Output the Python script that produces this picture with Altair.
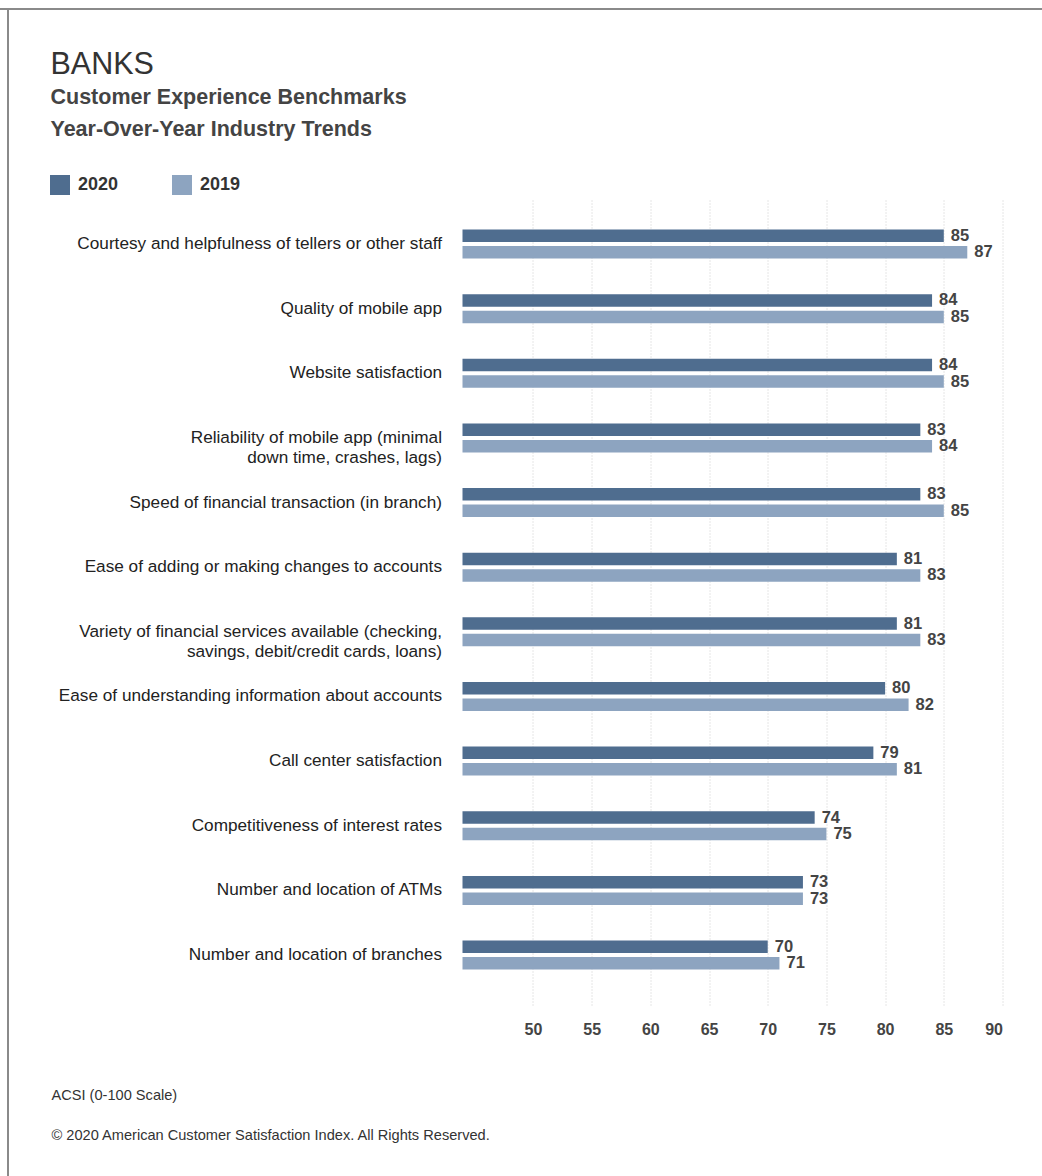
import altair as alt
import pandas as pd

categories = [
    "Courtesy and helpfulness of tellers or other staff",
    "Quality of mobile app",
    "Website satisfaction",
    "Reliability of mobile app (minimal\ndown time, crashes, lags)",
    "Speed of financial transaction (in branch)",
    "Ease of adding or making changes to accounts",
    "Variety of financial services available (checking,\nsavings, debit/credit cards, loans)",
    "Ease of understanding information about accounts",
    "Call center satisfaction",
    "Competitiveness of interest rates",
    "Number and location of ATMs",
    "Number and location of branches",
]
values_2020 = [85, 84, 84, 83, 83, 81, 81, 80, 79, 74, 73, 70]
values_2019 = [87, 85, 85, 84, 85, 83, 83, 82, 81, 75, 73, 71]
years = ["2020", "2019"]
year_colors = ["#4f6d8f", "#8da4c0"]
x_ticks = [50, 55, 60, 65, 70, 75, 80, 85, 90]

title_text = "BANKS"
subtitle_lines = ["Customer Experience Benchmarks", "Year-Over-Year Industry Trends"]
footnotes = ["ACSI (0-100 Scale)", "\u00a9 2020 American Customer Satisfaction Index. All Rights Reserved."]

rows = []
for c, a, b in zip(categories, values_2020, values_2019):
    rows.append({"category": c, "year": "2020", "value": a})
    rows.append({"category": c, "year": "2019", "value": b})
df = pd.DataFrame(rows)

FONT = "Liberation Sans"

y_enc = alt.Y(
    "category:N",
    sort=categories,
    title=None,
    scale=alt.Scale(paddingInner=0.5514, paddingOuter=0.5025, align=0.454, round=False),
    axis=alt.Axis(
        domain=False, ticks=False, labelPadding=21, labelFontSize=17.2,
        labelColor="#222222", labelFont=FONT, labelLimit=0,
        labelExpr="split(datum.label, '\\n')", labelLineHeight=20,
    ),
)
yoff_enc = alt.YOffset("year:N", sort=years, scale=alt.Scale(paddingInner=0.2424, paddingOuter=0))
x_enc = alt.X(
    "value:Q",
    scale=alt.Scale(domain=[44, 90], nice=False, zero=False),
    axis=alt.Axis(
        values=x_ticks, domain=False, ticks=False, grid=True,
        gridColor="#cccccc", gridDash=[1, 2], gridWidth=1,
        labelFontSize=16, labelFontWeight="bold", labelColor="#444444",
        labelFont=FONT, labelPadding=16,
        title=footnotes,
        titleFont=FONT, titleFontSize=14.6, titleFontWeight="normal", titleColor="#333333",
        titleAnchor="start", titleAlign="left", titleBaseline="alphabetic",
        titleLineHeight=40, titleX=-411.5, titleY=94,
    ),
)

base = alt.Chart(df)

bars = base.mark_bar(clip=True).encode(
    x=x_enc,
    y=y_enc,
    yOffset=yoff_enc,
    color=alt.Color(
        "year:N",
        sort=years,
        scale=alt.Scale(domain=years, range=year_colors),
        legend=alt.Legend(
            orient="none", legendX=-412.5, legendY=-25, direction="horizontal",
            title=None, symbolType="square", symbolSize=400, symbolStrokeWidth=0,
            symbolOpacity=1, labelFontSize=18, labelFontWeight="bold",
            labelColor="#333333", labelFont=FONT, labelOffset=8,
            columnPadding=53, padding=0,
        ),
    ),
)

labels = base.mark_text(
    align="left", baseline="middle", dx=7, fontSize=16.5, fontWeight="bold",
    color="#444444", font=FONT,
).encode(
    x="value:Q",
    y=alt.Y("category:N", sort=categories),
    yOffset=alt.YOffset("year:N", sort=years),
    text=alt.Text("value:Q"),
)

single = alt.Chart(pd.DataFrame({"k": [0]}))
title_mark = single.mark_text(
    text=title_text, align="left", baseline="alphabetic", font=FONT,
    fontSize=30.5, color="#333333",
).encode(x=alt.value(-412), y=alt.value(-126.5))
sub1_mark = single.mark_text(
    text=subtitle_lines[0], align="left", baseline="alphabetic", font=FONT,
    fontSize=21.5, fontWeight="bold", color="#444444",
).encode(x=alt.value(-412), y=alt.value(-96))
sub2_mark = single.mark_text(
    text=subtitle_lines[1], align="left", baseline="alphabetic", font=FONT,
    fontSize=21.5, fontWeight="bold", color="#444444",
).encode(x=alt.value(-412), y=alt.value(-64))

top_border = single.mark_rule(color="#8a8a8a", strokeWidth=2).encode(
    x=alt.value(-462.5), x2=alt.value(579.5), y=alt.value(-191)
)
left_border = single.mark_rule(color="#8a8a8a", strokeWidth=2).encode(
    x=alt.value(-454.5), y=alt.value(-191), y2=alt.value(976)
)

chart = alt.layer(
    bars, labels, title_mark, sub1_mark, sub2_mark, top_border, left_border
).properties(
    width=540,
    height=805,
    background="white",
    autosize=alt.AutoSizeParams(type="none"),
    padding={"left": 462.5, "top": 200, "right": 39.5, "bottom": 171},
).configure_view(strokeWidth=0)

chart.save("out.html", embed_options={"renderer": "svg", "actions": False})
